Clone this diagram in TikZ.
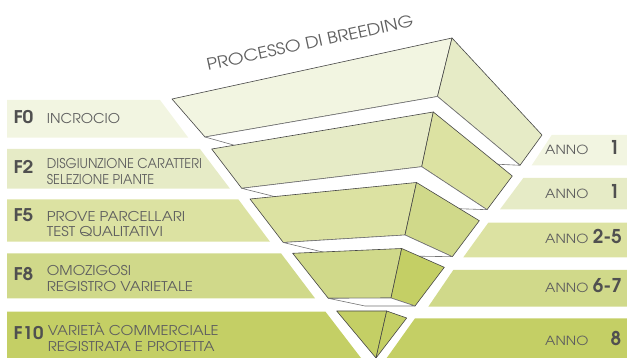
\documentclass[tikz,border=0pt]{standalone}
\usepackage{fontspec}
\setmainfont{texgyreadventor}[Extension=.otf,UprightFont=*-regular,BoldFont=*-bold,ItalicFont=*-italic,BoldItalicFont=*-bolditalic]
\usepackage{graphicx}
\definecolor{ca}{RGB}{242,245,225}
\definecolor{cb}{RGB}{230,235,198}
\definecolor{cc}{RGB}{220,226,162}
\definecolor{cd}{RGB}{208,217,138}
\definecolor{ce}{RGB}{196,207,101}
\definecolor{edgegray}{RGB}{70,70,70}
\definecolor{txtgray}{RGB}{95,95,95}
\definecolor{txtdark}{RGB}{80,80,80}
\newcommand\fitw[2]{\resizebox{#1pt}{\height}{#2}}
\begin{document}
\begin{tikzpicture}[x=1pt,y=-1pt,
  face/.style={draw=edgegray,line width=0.6pt,line join=round},
  bface/.style={fill=white,draw=edgegray!75,line width=0.6pt,line join=round},
  lbl/.style={anchor=base west,inner sep=0pt,text=txtgray,font=\fontsize{13.5}{13.5}\selectfont},
  flbl/.style={anchor=base west,inner sep=0pt,text=txtdark,font=\fontsize{17.5}{17.5}\selectfont\bfseries},
  anno/.style={anchor=base west,inner sep=0pt,text=txtgray,font=\fontsize{12.6}{12.6}\selectfont},
  num/.style={anchor=base east,inner sep=0pt,text=txtdark,font=\fontsize{19}{19}\selectfont\bfseries}]
\useasboundingbox (0,0) rectangle (627,358);

% left bands
\fill[ca] (7,100) -- (160,100) -- (188.3,137.7) -- (7,137.7) -- cycle;
\fill[cb] (7,149) -- (200,149) -- (230,188.7) -- (7,188.7) -- cycle;
\fill[cc] (7,199.3) -- (238.3,199.3) -- (270,241.7) -- (7,241.7) -- cycle;
\fill[cd] (7,253.3) -- (281,253.3) -- (315,298.3) -- (7,298.3) -- cycle;
\fill[ce] (7,311.7) -- (325.5,311.7) -- (361,358) -- (7,358) -- cycle;

% right bands
\fill[ca] (551.7,135) -- (627,135) -- (627,165.3) -- (531.7,165.3) -- cycle;
\fill[cb] (523.3,178) -- (627,178) -- (627,209.3) -- (500,209.3) -- cycle;
\fill[cc] (488.3,222.7) -- (627,222.7) -- (627,257.3) -- (463.3,257.3) -- cycle;
\fill[cd] (453.3,270) -- (627,270) -- (627,306.7) -- (428.3,306.7) -- cycle;
\fill[ce] (415,318.3) -- (627,318.3) -- (627,358) -- (386.7,358) -- cycle;

% funnel layer 1
\filldraw[face,fill=ca] (172,99) -- (452,38) -- (437.5,96.5) -- (205,137) -- cycle;
\filldraw[face,fill=cb] (452,38) -- (542,135) -- (520,165.3) -- (437.5,96.5) -- cycle;
\filldraw[bface] (205,137) -- (262,153) -- (520,165.3) -- (437.5,96.5) -- cycle;
% layer 2
\filldraw[face,fill=cb] (211.7,149) -- (433.3,112) -- (421.7,166.7) -- (241.7,188.3) -- cycle;
\filldraw[face,fill=cc] (433.3,112) -- (512.3,176) -- (487,209.7) -- (421.7,166.7) -- cycle;
\filldraw[bface] (241.7,188.3) -- (300,203) -- (487,209.7) -- (421.7,166.7) -- cycle;
% layer 3
\filldraw[face,fill=cc] (250,199) -- (416.5,182.5) -- (405,235) -- (283.3,242.5) -- cycle;
\filldraw[face,fill=cd] (416.5,182.5) -- (479.3,220.7) -- (452.3,256.7) -- (405,235) -- cycle;
\filldraw[bface] (283.3,242.5) -- (335,255) -- (452.3,256.7) -- (405,235) -- cycle;
% layer 4
\filldraw[face,fill=cd] (292.7,253.3) -- (401.7,248.5) -- (391,298) -- (328.3,298.3) -- cycle;
\filldraw[face,fill=ce] (401.7,248.5) -- (444.3,267.3) -- (415,306) -- (391,298) -- cycle;
\filldraw[bface] (328.3,298.3) -- (365,306) -- (415,306) -- (391,298) -- cycle;
% layer 5 (tip)
\filldraw[face,fill=ce] (336.7,311) -- (386.7,311) -- (376,358) -- cycle;
\filldraw[face,fill=ce] (386.7,311) -- (406.7,318) -- (376,358) -- cycle;

% title
\node[anchor=base west,inner sep=0pt,text=txtgray,font=\fontsize{16}{16}\selectfont,rotate=12.3] (title) at (208,71) {\fitw{211}{PROCESSO DI BREEDING}};

% left labels
\node[flbl] (f0) at (13.3,123.3) {\fitw{20}{F0}};
\node[lbl] (t0) at (46.7,123.3) {\fitw{73.3}{INCROCIO}};
\node[flbl] (f2) at (13.3,174) {\fitw{20}{F2}};
\node[lbl] (t2a) at (46.7,168.3) {\fitw{155}{DISGIUNZIONE CARATTERI}};
\node[lbl] (t2b) at (46.7,184.3) {\fitw{107.3}{SELEZIONE PIANTE}};
\node[flbl] (f5) at (13.3,221.7) {\fitw{20}{F5}};
\node[lbl] (t5a) at (46.7,221.7) {\fitw{138.3}{PROVE PARCELLARI}};
\node[lbl] (t5b) at (46.7,236.7) {\fitw{116}{TEST QUALITATIVI}};
\node[flbl] (f8) at (13.3,280.7) {\fitw{20}{F8}};
\node[lbl] (t8a) at (46.7,276) {\fitw{84.3}{OMOZIGOSI}};
\node[lbl] (t8b) at (46.7,292) {\fitw{146}{REGISTRO VARIETALE}};
\node[flbl] (f10) at (13.3,340) {\fitw{30}{F10}};
\node[lbl] (t10a) at (47.7,336) {\fitw{170.6}{VARIETÀ COMMERCIALE}};
\node[lbl] (t10b) at (47.7,351.7) {\fitw{166.6}{REGISTRATA E PROTETTA}};

% right labels
\node[anno] (a1) at (545,154.3) {\fitw{43.3}{ANNO}};
\node[num] (n1) at (620,154.3) {1};
\node[anno] (a2) at (545,198.3) {\fitw{43.3}{ANNO}};
\node[num] (n2) at (620,198.3) {1};
\node[anno] (a3) at (545,243.3) {\fitw{43.3}{ANNO}};
\node[num] (n3) at (622,243.3) {\fitw{29}{2-5}};
\node[anno] (a4) at (545,292.3) {\fitw{43.3}{ANNO}};
\node[num] (n4) at (622,292.3) {\fitw{29}{6-7}};
\node[anno] (a5) at (545,345) {\fitw{43.3}{ANNO}};
\node[num] (n5) at (621.5,345) {8};
\end{tikzpicture}
\end{document}
